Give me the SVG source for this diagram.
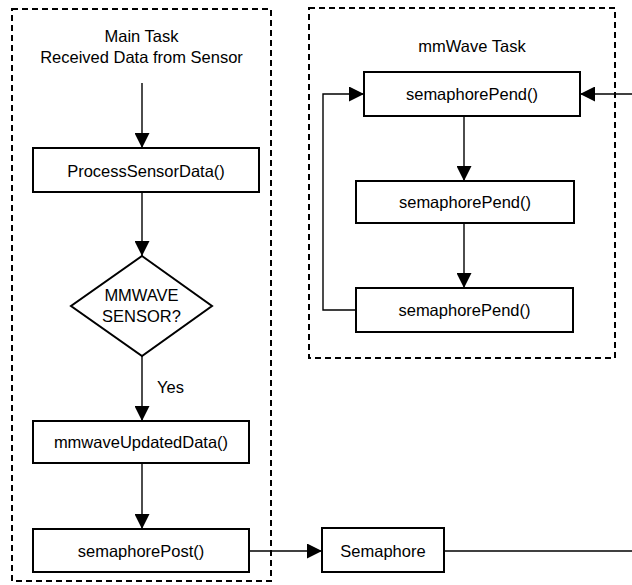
<svg xmlns="http://www.w3.org/2000/svg" width="632" height="585" viewBox="0 0 632 585">
<defs>
<marker id="ah" markerUnits="userSpaceOnUse" markerWidth="15" markerHeight="15" viewBox="0 0 15 15" refX="15" refY="7.5" orient="auto">
<path d="M0,0 L15,7.5 L0,15 Z" fill="#000"/>
</marker>
<style>
.frame{fill:none;stroke:#000;stroke-width:2;stroke-dasharray:6 4}
.box{fill:#fff;stroke:#000;stroke-width:2}
.conn{fill:none;stroke:#000;stroke-width:1.4}
.arr{marker-end:url(#ah)}
text{font-family:"Liberation Sans",Arial,Helvetica,sans-serif;font-size:16.5px;fill:#000;text-anchor:middle}
</style>
</defs>
<rect width="632" height="585" fill="#fff"/>
<g id="main-task">
<rect class="frame" x="12" y="9" width="259" height="572"/>
<text x="141.5" y="42">Main Task</text>
<text x="141.5" y="63">Received Data from Sensor</text>
</g>
<g id="mmwave-task">
<rect class="frame" x="309" y="8" width="306" height="350"/>
<text x="472" y="51.5">mmWave Task</text>
</g>
<g id="connectors">
<path class="conn arr" d="M142,83 V148"/>
<path class="conn arr" d="M142,192 V256"/>
<path class="conn arr" d="M142,356 V421"/>
<path class="conn arr" d="M142,463 V529"/>
<path class="conn arr" d="M249,551 H322"/>
<path class="conn" d="M444,551 H632"/>
<path class="conn arr" d="M632,94 H580"/>
<path class="conn arr" d="M464,116 V181"/>
<path class="conn arr" d="M464,223 V288"/>
<path class="conn arr" d="M356,310 H323 V94 H364"/>
<text x="170.5" y="393">Yes</text>
</g>
<g id="process-sensor-data">
<rect class="box" x="33" y="148" width="226" height="44"/>
<text x="146" y="177">ProcessSensorData()</text>
</g>
<g id="mmwave-sensor-decision">
<polygon class="box" points="142,256 212,306 142,356 71,306"/>
<text x="141.5" y="301">MMWAVE</text>
<text x="141.5" y="322">SENSOR?</text>
</g>
<g id="mmwave-updated-data">
<rect class="box" x="33" y="421" width="216" height="42"/>
<text x="141" y="448">mmwaveUpdatedData()</text>
</g>
<g id="semaphore-post">
<rect class="box" x="33" y="529" width="216" height="43"/>
<text x="141" y="557">semaphorePost()</text>
</g>
<g id="semaphore">
<rect class="box" x="322" y="528" width="122" height="44"/>
<text x="383" y="556.5">Semaphore</text>
</g>
<g id="semaphore-pend-1">
<rect class="box" x="364" y="72" width="216" height="44"/>
<text x="472" y="100">semaphorePend()</text>
</g>
<g id="semaphore-pend-2">
<rect class="box" x="356" y="181" width="218" height="42"/>
<text x="465" y="208">semaphorePend()</text>
</g>
<g id="semaphore-pend-3">
<rect class="box" x="356" y="288" width="217" height="44"/>
<text x="464.5" y="316">semaphorePend()</text>
</g>
</svg>
